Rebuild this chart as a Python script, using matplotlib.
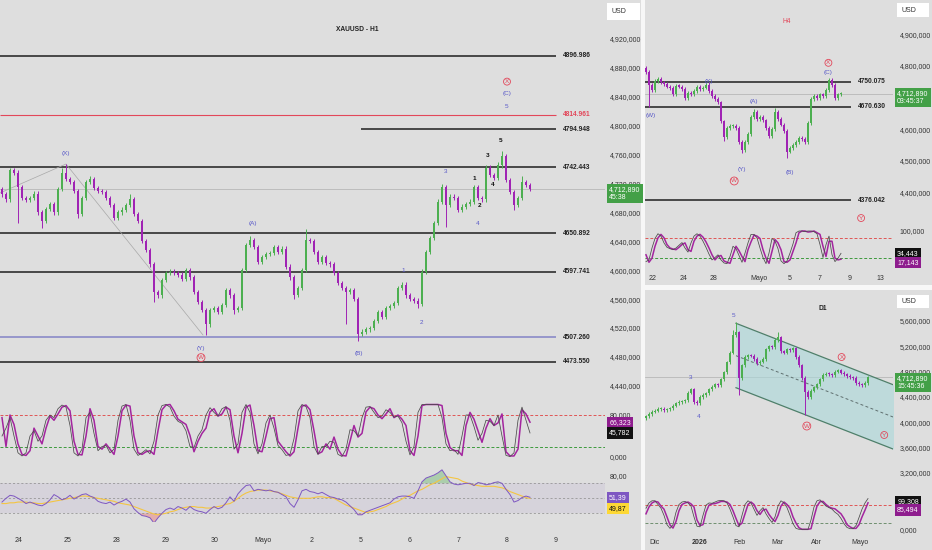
import numpy as np
import matplotlib
matplotlib.use("Agg")
import matplotlib.pyplot as plt
from matplotlib.patches import Rectangle

plt.rcParams['font.family'] = ['Liberation Sans', 'DejaVu Sans']

# ---------------- H1 data ----------------
h1_close = [4705, 4698, 4738, 4735, 4715, 4700, 4697, 4700, 4706, 4680,
            4668, 4685, 4692, 4680, 4712, 4735, 4726, 4722, 4710, 4678,
            4700, 4722, 4726, 4714, 4710, 4708, 4700, 4690, 4672, 4680,
            4684, 4690, 4698, 4678, 4668, 4640, 4628, 4608, 4570, 4565,
            4586, 4596, 4598, 4596, 4594, 4588, 4600, 4590, 4570, 4556,
            4545, 4525, 4545, 4548, 4542, 4552, 4572, 4565, 4545, 4548,
            4600, 4635, 4642, 4632, 4612, 4618, 4622, 4624, 4632, 4625,
            4630, 4605, 4590, 4566, 4575, 4600, 4642, 4640, 4625, 4612,
            4618, 4610, 4608, 4596, 4582, 4575, 4570, 4572, 4560, 4512,
            4515, 4518, 4520, 4530, 4542, 4535, 4548, 4550, 4555, 4575,
            4580, 4565, 4560, 4558, 4553, 4598, 4625, 4645, 4665, 4695,
            4715, 4690, 4702, 4700, 4683, 4688, 4692, 4695, 4715, 4700,
            4698, 4742, 4732, 4728, 4745, 4758, 4725, 4708, 4690, 4700,
            4722, 4718, 4712.89]
h1_first_open = 4712
h1_highs = {15: 4742, 16: 4747, 22: 4730, 32: 4705, 62: 4647, 76: 4657,
            110: 4720, 124: 4750, 125: 4765, 130: 4730}
h1_lows = {4: 4665, 10: 4658, 19: 4672, 38: 4556, 51: 4510, 58: 4540,
           73: 4560, 86: 4526, 89: 4502, 104: 4547, 111: 4660, 128: 4684}

h1_stoch_slow = [75, 20, 80, 62, 25, 5, 3, 12, 55, 40,
                 25, 55, 78, 70, 82, 95, 98, 88, 30, 5,
                 4, 40, 92, 70, 20, 15, 25, 15, 5, 40,
                 88, 99, 97, 40, 8, 5, 10, 12, 5, 50,
                 90, 99, 100, 88, 72, 67, 62, 41, 10, 30,
                 45, 55, 86, 92, 78, 82, 95, 90, 40, 8,
                 45, 95, 99, 60, 12, 10, 40, 73, 75, 30,
                 20, 10, 2, 10, 55, 97, 99, 90, 50, 6,
                 10, 25, 15, 38, 15, 3, 2, 30, 60, 38,
                 45, 86, 95, 92, 80, 73, 82, 92, 75, 80,
                 72, 60, 12, 3, 40, 98, 100, 100, 100, 100,
                 98, 45, 18, 12, 12, 3, 60, 85, 72, 50,
                 28, 55, 73, 60, 65, 82, 10, 2, 2, 15,
                 90, 82, 66.323]
h1_stoch_fast = [40, 55, 75, 40, 8, 2, 8, 40, 50, 30,
                 40, 70, 80, 75, 92, 99, 95, 60, 8, 2,
                 15, 75, 85, 45, 12, 20, 22, 8, 15, 70,
                 97, 100, 70, 15, 3, 8, 14, 6, 30, 80,
                 98, 100, 95, 78, 68, 64, 50, 20, 18, 40,
                 52, 80, 94, 85, 78, 92, 96, 70, 15, 25,
                 85, 100, 85, 25, 6, 25, 65, 80, 55, 22,
                 14, 3, 5, 35, 88, 100, 96, 75, 20, 5,
                 20, 20, 30, 28, 5, 1, 15, 52, 50, 40,
                 75, 95, 96, 85, 75, 78, 90, 85, 76, 78,
                 65, 30, 4, 20, 85, 100, 100, 100, 100, 100,
                 75, 25, 12, 14, 5, 40, 80, 80, 58, 32,
                 45, 70, 68, 60, 80, 40, 3, 1, 8, 70,
                 95, 70, 45.782]
h1_rsi = [45, 50, 54, 53, 50, 47, 43, 45, 43, 41,
          40, 43, 48, 55, 52, 48, 50, 54, 49, 52,
          55, 56, 53, 51, 46, 44, 43, 45, 41, 44,
          46, 49, 45, 36, 31, 27, 26, 24, 17, 24,
          30, 35, 37, 35, 39, 37, 34, 39, 35, 33,
          32, 30, 35, 39, 36, 38, 44, 52, 46, 56,
          62, 67, 68, 60, 62, 61, 60, 61, 59, 58,
          55, 52, 43, 38, 48, 60, 62, 59, 58, 56,
          58, 55, 52, 51, 49, 48, 45, 40, 35, 28,
          28, 32, 34, 36, 38, 40, 42, 44, 49, 52,
          53, 53, 52, 50, 60, 72, 77, 79, 81, 84,
          88, 80, 72, 69, 68, 69, 70, 70, 67, 71,
          70, 68, 69, 71, 72, 70, 62, 55, 45, 47,
          51, 53, 51.39]
h1_rsi_ma = [43, 43, 44, 44, 45, 45, 45, 44, 44, 43,
             43, 44, 45, 46, 47, 48, 49, 50, 51, 52,
             53, 53, 52, 51, 50, 49, 48, 47, 46, 44,
             43, 42, 41, 39, 37, 35, 33, 31, 29, 28,
             29, 30, 32, 33, 35, 37, 38, 39, 39, 38,
             38, 37, 37, 38, 39, 40, 42, 43, 46, 50,
             54, 57, 59, 60, 61, 61, 61, 60, 59, 58,
             56, 54, 52, 51, 50, 50, 50, 50, 51, 52,
             52, 51, 51, 50, 47, 44, 41, 39, 37, 35,
             33, 31, 32, 33, 35, 37, 39, 42, 44, 46,
             49, 52, 54, 57, 60, 62, 65, 68, 70, 73,
             76, 79, 78, 77, 76, 73, 71, 69, 68, 67,
             66, 66, 66, 66, 65, 64, 62, 59, 57, 55,
             53, 51, 49.87]
h1_levels = [4896.986, 4814.961, 4794.948, 4742.443, 4650.892, 4597.741, 4507.260, 4473.550]
h1_day_lab = ['24', '25', '28', '29', '30', 'Mayo', '2', '5', '6', '7', '8', '9']
h1_day_pos = [4.25, 16.5, 28.75, 41, 53.25, 65.25, 77.4, 89.75, 102, 114.25, 126.25, 138.5]

# ---------------- H4 data ----------------
h4_close = [4780, 4740, 4725, 4752, 4758, 4748, 4742, 4735, 4730, 4710,
            4738, 4735, 4728, 4700, 4715, 4712, 4722, 4735, 4728, 4732,
            4740, 4722, 4705, 4695, 4685, 4625, 4575, 4605, 4610, 4612,
            4605, 4560, 4535, 4560, 4585, 4640, 4655, 4632, 4638, 4628,
            4605, 4580, 4600, 4655, 4632, 4615, 4595, 4530, 4540, 4550,
            4560, 4572, 4570, 4560, 4620, 4695, 4705, 4700, 4710, 4705,
            4725, 4755, 4740, 4700, 4710, 4712.89]
h4_first_open = 4795
h4_highs = {0: 4800, 21: 4748, 36: 4665, 43: 4668, 61: 4763}
h4_lows = {1: 4672, 26: 4563, 32: 4525, 47: 4510}
h4_stoch_slow = [30, 8, 20, 55, 80, 90, 80, 60, 50, 47,
                 45, 52, 60, 65, 45, 40, 70, 85, 90, 82,
                 68, 50, 30, 15, 25, 28, 12, 8, 5, 30,
                 55, 42, 25, 10, 45, 68, 88, 85, 78, 45,
                 20, 5, 40, 75, 65, 45, 10, 8, 15, 40,
                 65, 95, 100, 100, 97, 98, 100, 95, 90, 55,
                 25, 70, 70, 20, 15, 17.143]
h4_stoch_fast = [10, 15, 50, 78, 92, 85, 65, 52, 48, 45,
                 50, 58, 66, 50, 38, 65, 85, 92, 85, 70,
                 52, 32, 15, 22, 30, 15, 6, 4, 25, 55,
                 48, 28, 8, 35, 65, 90, 90, 80, 50, 22,
                 4, 35, 78, 70, 48, 12, 4, 12, 35, 62,
                 95, 100, 100, 98, 100, 100, 98, 92, 60, 22,
                 60, 85, 30, 10, 20, 34.443]
h4_levels = [4750.075, 4670.630, 4376.042]
h4_day_lab = ['22', '24', '28', 'Mayo', '5', '7', '9', '13']
h4_day_pos = [2.23, 12.4, 22.4, 37.7, 48, 58, 68, 78.2]

# ---------------- D1 data ----------------
d1_close = [4095, 4130, 4165, 4180, 4210, 4215, 4195, 4205, 4220, 4260,
            4300, 4320, 4330, 4345, 4470, 4520, 4320, 4300, 4400, 4430,
            4460, 4520, 4560, 4600, 4590, 4680, 4790, 4950, 5100, 5380,
            5420, 4700, 4900, 5030, 5060, 5050, 5000, 4930, 4960, 5000,
            5150, 5200, 5190, 5300, 5340, 5120, 5100, 5150, 5140, 5170,
            5030, 4900, 4700, 4480, 4400, 4500, 4550, 4600, 4680, 4750,
            4770, 4760, 4740, 4800, 4820, 4780, 4760, 4730, 4710, 4700,
            4620, 4600, 4590, 4620, 4712.89]
d1_first_open = 4060
d1_highs = {29: 5450, 30: 5590, 44: 5420}
d1_lows = {31: 4430, 53: 4115}
d1_stoch_slow = [50, 72, 85, 90, 88, 75, 65, 40, 14, 4,
                 25, 60, 80, 85, 88, 82, 72, 30, 12, 15,
                 55, 78, 82, 83, 86, 90, 90, 88, 80, 60,
                 35, 12, 20, 50, 80, 88, 80, 60, 48, 62,
                 65, 48, 35, 25, 45, 75, 88, 80, 68, 40,
                 20, 5, 0, 0, 0, 2, 40, 75, 89, 90,
                 80, 72, 68, 66, 58, 50, 35, 15, 8, 3,
                 3, 15, 40, 62, 85.494]
d1_stoch_fast = [68, 85, 92, 92, 80, 68, 45, 15, 3, 15,
                 55, 80, 88, 90, 85, 75, 40, 10, 8, 45,
                 78, 85, 84, 88, 92, 93, 92, 85, 65, 40,
                 12, 8, 45, 80, 92, 85, 65, 45, 60, 70,
                 50, 35, 22, 40, 75, 92, 85, 70, 45, 18,
                 3, 0, 0, 0, 0, 30, 72, 92, 95, 85,
                 75, 70, 65, 55, 48, 35, 18, 6, 2, 2,
                 12, 38, 65, 85, 99.308]
d1_channel_x = [30, 82.6]
d1_channel_top = [5563.7, 4589]
d1_channel_mid = [5052, 4079]
d1_channel_bot = [4546, 3573]
d1_mon_lab = ['Dic', '2026', 'Feb', 'Mar', 'Abr', 'Mayo']
d1_mon_pos = [3, 17.8, 31.1, 43.9, 56.7, 71.3]

last_price = 4712.89

# ---------------- styling ----------------
W, H = 932, 550
BG = '#dedede'
UP = '#4caf50'
DN = '#a023b4'
BLUE = '#5a5ac8'
RED = '#e2475a'
TXT = '#333333'
FS = 5


def box(x0, y0, x1, y1):
    return [x0 / W, 1 - y1 / H, (x1 - x0) / W, (y1 - y0) / H]


def fmt3(v):
    return '{:,}'.format(int(round(v))) + ',000'


def new_ax(fig, rect, xlim, ylim):
    ax = fig.add_axes(box(*rect))
    ax.set_facecolor('none')
    for s in ax.spines.values():
        s.set_visible(False)
    ax.set_xlim(xlim)
    ax.set_ylim(ylim)
    ax.yaxis.tick_right()
    ax.tick_params(length=0, labelsize=FS, colors=TXT)
    ax.set_xticks([])
    ax.set_yticks([])
    return ax


def draw_candles(ax, closes, first_open, pad, highs, lows, width):
    c = np.asarray(closes, float)
    o = np.r_[first_open, c[:-1]]
    hi = np.maximum(o, c) + pad
    lo = np.minimum(o, c) - pad
    for k, v in highs.items():
        hi[k] = v
    for k, v in lows.items():
        lo[k] = v
    x = np.arange(len(c))
    col = np.where(c >= o, UP, DN)
    ax.vlines(x, lo, hi, colors=col, lw=0.7, zorder=3)
    body = np.maximum(np.abs(c - o), pad * 0.6)
    ax.bar(x, body, bottom=np.minimum(o, c), width=width, color=col, lw=0, zorder=4)


def draw_stoch(ax, slow, fast, low_col):
    x = np.arange(len(slow))
    ax.axhline(80, color='#e05555', ls=(0, (3, 2)), lw=0.7)
    ax.axhline(20, color=low_col, ls=(0, (3, 2)), lw=0.7)
    ax.plot(x, slow, color='#a3259f', lw=1.1, zorder=3)
    ax.plot(x, fast, color='#4a4a4a', lw=0.55, zorder=4)


def tag(ax, value, text, fc, tc='white', dy=0.0):
    ax.annotate(text, xy=(1.0, value), xycoords=('axes fraction', 'data'),
                xytext=(3, dy), textcoords='offset points', ha='left', va='center',
                fontsize=FS, color=tc, linespacing=1.15, zorder=20,
                bbox=dict(boxstyle='square,pad=0.3', fc=fc, ec='none'),
                annotation_clip=False)


def wave(ax, x, y, s, color, circle=False, weight='normal'):
    kw = {}
    if circle:
        kw['bbox'] = dict(boxstyle='circle,pad=0.15', fc='none', ec=color, lw=0.6)
    ax.text(x, y, s, color=color, fontsize=4.6, ha='center', va='center',
            fontweight=weight, zorder=6, **kw)


def usd(fig, x0, y0, x1, y1):
    fig.add_artist(Rectangle((x0 / W, 1 - y1 / H), (x1 - x0) / W, (y1 - y0) / H,
                             transform=fig.transFigure, fc='white', ec='none'))
    fig.text((x0 + 5) / W, 1 - (y0 + y1) / 2 / H, 'USD', fontsize=FS, color=TXT,
             ha='left', va='center')


fig = plt.figure(figsize=(W / 100, H / 100), dpi=100, facecolor='#f7f7f7')
for r in [(0, 0, 641, 550), (645, 0, 932, 285), (645, 290, 932, 550)]:
    bg = fig.add_axes(box(*r))
    bg.set_facecolor(BG)
    bg.set_xticks([])
    bg.set_yticks([])
    for s in bg.spines.values():
        s.set_visible(False)

# ================= H1 panel =================
h1_xlim = (-0.5, 150.75)
ax = new_ax(fig, (0, 0, 605, 395), h1_xlim, (4427.27, 4973.98))
ticks = np.arange(4440, 4921, 40)
ax.set_yticks(ticks, [fmt3(t) for t in ticks])
ax.tick_params(axis='y', pad=3.5)
ax.axhline(last_price, color='#b0b0b0', lw=0.5, zorder=1)
lvl_col = ['#2e2e2e', RED, '#2e2e2e', '#2e2e2e', '#2e2e2e', '#2e2e2e', '#8a8ac8', '#2e2e2e']
lvl_start = [-0.5, -0.5, 89.7, -0.5, -0.5, -0.5, -0.5, -0.5]
for lv, c, st in zip(h1_levels, lvl_col, lvl_start):
    ax.hlines(lv, st, 138.5, color=c, lw=1.2 if c != RED else 0.8, zorder=2)
    ax.text(140.3, lv, '%.3f' % lv, color=RED if c == RED else '#222', fontsize=4.8,
            fontweight='bold', ha='left', va='center')
ax.plot([-0.5, 16, 50.25], [4706.9, 4747, 4510.3], color='#a8a8a8', lw=0.5, zorder=2)
draw_candles(ax, h1_close, h1_first_open, 3, h1_highs, h1_lows, 0.72)
ax.text(88.75, 4932.5, 'XAUUSD - H1', fontsize=4.8, fontweight='bold', color='#222',
        ha='center', va='center')
wave(ax, 16, 4762, '(X)', BLUE)
wave(ax, 62.75, 4665, '(A)', BLUE)
wave(ax, 49.75, 4492, '(Y)', BLUE)
wave(ax, 49.75, 4479, 'W', RED, circle=True)
wave(ax, 89.25, 4485, '(B)', BLUE)
wave(ax, 100.25, 4600, '1', BLUE)
wave(ax, 104.75, 4528, '2', BLUE)
wave(ax, 111, 4737, '3', BLUE)
wave(ax, 119, 4664, '4', BLUE)
wave(ax, 126.25, 4827, '5', BLUE)
wave(ax, 126.25, 4844, '(C)', BLUE)
wave(ax, 126.25, 4861, 'X', RED, circle=True)
for s, xx, yy in [('1', 118, 4727.6), ('2', 119.5, 4689), ('3', 121.5, 4759.4),
                  ('4', 122.75, 4718), ('5', 124.75, 4779)]:
    wave(ax, xx, yy, s, '#111', weight='bold')
tag(ax, last_price, '4,712,890\n45:38', '#43a047', dy=-3.5)

ax = new_ax(fig, (0, 398, 605, 462), h1_xlim, (-9.5, 112.4))
ax.set_yticks([0, 80], ['0,000', '80,000'])
ax.tick_params(axis='y', pad=3.5)
draw_stoch(ax, h1_stoch_slow, h1_stoch_fast, '#3c9a3c')
tag(ax, h1_stoch_slow[-1], '66,323', '#8e1d8e')
tag(ax, h1_stoch_fast[-1], '45,782', '#111111')

ax = new_ax(fig, (0, 466, 605, 522), h1_xlim, (18.4, 93.1))
ax.set_yticks([80], ['80,00'])
ax.tick_params(axis='y', pad=3.5)
x = np.arange(len(h1_rsi))
rsi = np.array(h1_rsi, float)
ax.axhspan(30, 70, color='#7e57c2', alpha=0.08, lw=0)
for lv in (70, 50, 30):
    ax.axhline(lv, color='#8a8a8a', ls=(0, (3, 3)), lw=0.5)
ax.fill_between(x, 70, rsi, where=rsi > 70, interpolate=True, color='#4caf50', alpha=0.35, lw=0)
ax.fill_between(x, 30, rsi, where=rsi < 30, interpolate=True, color='#ef5350', alpha=0.35, lw=0)
ax.plot(x, h1_rsi_ma, color='#f4c542', lw=0.8)
ax.plot(x, rsi, color='#7e57c2', lw=0.7)
tag(ax, h1_rsi[-1], '51,39', '#7e57c2')
tag(ax, h1_rsi_ma[-1], '49,87', '#fdd835', tc='#111', dy=-7.5)
ax.set_xticks(h1_day_pos, h1_day_lab)
ax.tick_params(axis='x', pad=11)
usd(fig, 607, 3, 640, 20)

# ================= H4 panel =================
r_xlim = (-0.33, 82.33)
ax = new_ax(fig, (645, 0, 893, 222), r_xlim, (4307.5, 5008.3))
ticks = [4400, 4500, 4600, 4800, 4900]
ax.set_yticks(ticks, [fmt3(t) for t in ticks])
ax.tick_params(axis='y', pad=5)
ax.axhline(last_price, color='#b0b0b0', lw=0.5, zorder=1)
for lv in h4_levels:
    ax.hlines(lv, -0.33, 68.2, color='#2e2e2e', lw=1.2, zorder=2)
    ax.text(70.6, lv, '%.3f' % lv, color='#222', fontsize=4.8, fontweight='bold',
            ha='left', va='center')
draw_candles(ax, h4_close, h4_first_open, 6, h4_highs, h4_lows, 0.72)
ax.text(47, 4939, 'H4', fontsize=4.8, color=RED, ha='center', va='center')
wave(ax, 1.6, 4643, '(W)', BLUE)
wave(ax, 20.8, 4750, '(X)', BLUE)
wave(ax, 36, 4689, '(A)', BLUE)
wave(ax, 32, 4472, '(Y)', BLUE)
wave(ax, 29.4, 4437, 'W', RED, circle=True)
wave(ax, 48, 4464, '(B)', BLUE)
wave(ax, 60.8, 4778, '(C)', BLUE)
wave(ax, 60.8, 4810, 'X', RED, circle=True)
wave(ax, 71.7, 4320, 'Y', RED, circle=True)
tag(ax, last_price, '4,712,890\n03:45:37', '#43a047', dy=-3.0)

ax = new_ax(fig, (645, 224, 893, 270), r_xlim, (-14.7, 120.6))
ax.set_yticks([100], ['100,000'])
ax.tick_params(axis='y', pad=5)
draw_stoch(ax, h4_stoch_slow, h4_stoch_fast, '#3c9a3c')
tag(ax, h4_stoch_fast[-1], '34,443', '#111111')
tag(ax, h4_stoch_slow[-1], '17,143', '#8e1d8e', dy=-2.5)
ax.set_xticks(h4_day_pos, h4_day_lab)
ax.tick_params(axis='x', pad=3.5)
usd(fig, 897, 3, 929, 17)

# ================= D1 panel =================
ax = new_ax(fig, (645, 290, 893, 487), r_xlim, (2977.6, 6089.7))
ticks = np.arange(3200, 5601, 400)
ax.set_yticks(ticks, [fmt3(t) for t in ticks])
ax.tick_params(axis='y', pad=5)
ax.axhline(last_price, color='#b0b0b0', lw=0.5, zorder=1)
ax.fill_between(d1_channel_x, d1_channel_bot, d1_channel_top, color='#a9d8da', alpha=0.6, lw=0, zorder=1)
ax.plot(d1_channel_x, d1_channel_top, color='#4f7f6a', lw=0.9, zorder=2)
ax.plot(d1_channel_x, d1_channel_bot, color='#4f7f6a', lw=0.9, zorder=2)
ax.plot(d1_channel_x, d1_channel_mid, color='#5f6f6f', lw=0.7, ls=(0, (3, 2.5)), zorder=2)
draw_candles(ax, d1_close, d1_first_open, 25, d1_highs, d1_lows, 0.72)
ax.text(58.8, 5790, 'D1', fontsize=4.8, fontweight='bold', color='#222', ha='center', va='center')
wave(ax, 29.1, 5690, '5', BLUE)
wave(ax, 14.9, 4710, '3', BLUE)
wave(ax, 17.4, 4099, '4', BLUE)
wave(ax, 65.2, 5031, 'X', RED, circle=True)
wave(ax, 53.6, 3941, 'W', RED, circle=True)
wave(ax, 79.4, 3799, 'Y', RED, circle=True)
tag(ax, last_price, '4,712,890\n15:45:36', '#43a047', dy=-3.7)

ax = new_ax(fig, (645, 490, 893, 533), r_xlim, (-11.9, 126.8))
ax.set_yticks([0], ['0,000'])
ax.tick_params(axis='y', pad=5)
draw_stoch(ax, d1_stoch_slow, d1_stoch_fast, '#6f8f6f')
tag(ax, d1_stoch_fast[-1], '99,308', '#111111', dy=-2)
tag(ax, d1_stoch_slow[-1], '85,494', '#8e1d8e', dy=-5.2)
ax.set_xticks(d1_mon_pos, d1_mon_lab)
ax.tick_params(axis='x', pad=4)
for lab in ax.get_xticklabels():
    if lab.get_text() == '2026':
        lab.set_fontweight('bold')
usd(fig, 897, 295, 929, 308)

fig.savefig('out.png', dpi=100, facecolor=fig.get_facecolor())
